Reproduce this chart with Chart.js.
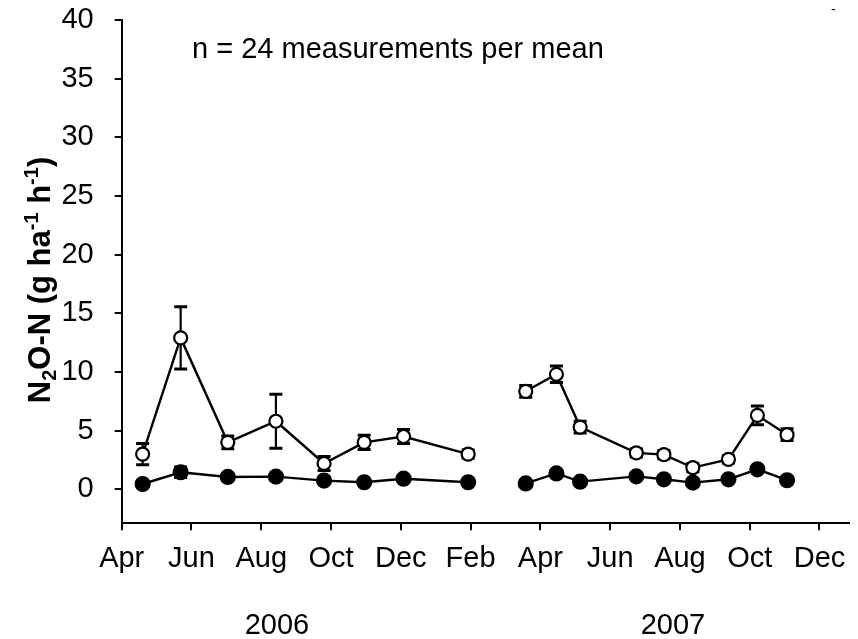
<!DOCTYPE html>
<html>
<head>
<meta charset="utf-8">
<script src="https://cdn.jsdelivr.net/npm/chart.js@4.4.1/dist/chart.umd.min.js"></script>
<style>
  html, body { margin: 0; padding: 0; background: #ffffff; }
  canvas { display: block; }
</style>
</head>
<body>
<canvas id="chart" width="858" height="639"></canvas>
<script>
// Month axis: values are months elapsed since 1 April 2006
const monthLabels = ['Apr', 'Jun', 'Aug', 'Oct', 'Dec', 'Feb', 'Apr', 'Jun', 'Aug', 'Oct', 'Dec'];
const monthTickValues = [0, 2, 4, 6, 8, 10, 12, 14, 16, 18, 20];
const yearLabels = ['2006', '2007'];
const yTickValues = [0, 5, 10, 15, 20, 25, 30, 35, 40];

// Sampling dates (months since 1 Apr 2006)
const sampleMonths2006 = [0.60, 1.69, 3.04, 4.42, 5.80, 6.95, 8.08, 9.93];
const sampleMonths2007 = [11.58, 12.46, 13.14, 14.75, 15.54, 16.37, 17.39, 18.22, 19.07];

// Open symbols: mean N2O-N flux and standard error
const openMean2006 = [3.0, 12.9, 4.0, 5.8, 2.2, 4.0, 4.5, 3.0];
const openErr2006  = [0.9, 2.65, 0.55, 2.3, 0.6, 0.6, 0.6, 0.35];
const openMean2007 = [8.35, 9.8, 5.3, 3.1, 2.95, 1.85, 2.55, 6.3, 4.65];
const openErr2007  = [0.5, 0.7, 0.5, 0.35, 0.35, 0.35, 0.3, 0.8, 0.5];

// Filled symbols: mean N2O-N flux and standard error
const filledMean2006 = [0.45, 1.45, 1.05, 1.08, 0.74, 0.6, 0.9, 0.6];
const filledErr2006  = [0.15, 0.45, 0.3, 0.3, 0.2, 0.15, 0.2, 0.15];
const filledMean2007 = [0.5, 1.35, 0.65, 1.1, 0.85, 0.57, 0.85, 1.7, 0.77];
const filledErr2007  = [0.15, 0.2, 0.15, 0.2, 0.15, 0.15, 0.15, 0.2, 0.15];

const FONT = '"Liberation Sans", Arial, Helvetica, sans-serif';
const TEXT_SIZE = 29;

function points(xs, ys, es) {
  return xs.map((x, i) => ({ x: x, y: ys[i], err: es[i] }));
}

function series(label, xs, ys, es, filled) {
  return {
    label: label,
    data: points(xs, ys, es),
    borderColor: '#000000',
    borderWidth: 2.4,
    backgroundColor: filled ? '#000000' : '#ffffff',
    pointBackgroundColor: filled ? '#000000' : '#ffffff',
    pointBorderColor: '#000000',
    pointBorderWidth: 2.2,
    pointRadius: filled ? 7 : 6.5,
    pointHoverRadius: filled ? 7 : 6.5,
    tension: 0,
    fill: false
  };
}

// Vertical error bars with caps, drawn underneath the symbols
const errorBars = {
  id: 'errorBars',
  beforeDatasetsDraw(chart) {
    const ctx = chart.ctx;
    const xs = chart.scales.x, ys = chart.scales.y;
    ctx.save();
    ctx.strokeStyle = '#000000';
    chart.data.datasets.forEach(ds => {
      ds.data.forEach(p => {
        const px = xs.getPixelForValue(p.x);
        const top = ys.getPixelForValue(p.y + p.err);
        const bot = ys.getPixelForValue(p.y - p.err);
        const half = 6.5;
        ctx.lineWidth = 2.2;
        ctx.beginPath();
        ctx.moveTo(px, top); ctx.lineTo(px, bot);
        ctx.stroke();
        ctx.lineWidth = 3;
        ctx.beginPath();
        ctx.moveTo(px - half, top); ctx.lineTo(px + half, top);
        ctx.moveTo(px - half, bot); ctx.lineTo(px + half, bot);
        ctx.stroke();
      });
    });
    ctx.restore();
  }
};

// Axis title with sub/superscripts, year labels and the note
const decorations = {
  id: 'decorations',
  afterDraw(chart) {
    const ctx = chart.ctx;
    const xs = chart.scales.x;
    ctx.save();
    ctx.fillStyle = '#000000';

    // Year labels under the month ticks
    const yearCentres = [4.45, 15.8];
    ctx.font = TEXT_SIZE + 'px ' + FONT;
    ctx.textAlign = 'center';
    ctx.textBaseline = 'alphabetic';
    yearLabels.forEach((t, i) => {
      ctx.fillText(t, xs.getPixelForValue(yearCentres[i]), 634);
    });

    // Note in the upper part of the plot
    ctx.textAlign = 'left';
    ctx.fillText('n = 24 measurements per mean', 192, 58);

    // Small mark in the upper right corner
    ctx.font = '14px ' + FONT;
    ctx.fillText('-', 831, 14);

    // Rotated y-axis title: N2O-N (g ha-1 h-1)
    const size = 31;
    const small = Math.round(size * 0.66);
    const parts = [
      { t: 'N', f: 'bold ' + size + 'px ' + FONT, dy: 0 },
      { t: '2', f: 'bold ' + small + 'px ' + FONT, dy: 6 },
      { t: 'O-N (g ha', f: 'bold ' + size + 'px ' + FONT, dy: 0 },
      { t: '-1', f: 'bold ' + small + 'px ' + FONT, dy: -12 },
      { t: ' h', f: 'bold ' + size + 'px ' + FONT, dy: 0 },
      { t: '-1', f: 'bold ' + small + 'px ' + FONT, dy: -12 },
      { t: ')', f: 'bold ' + size + 'px ' + FONT, dy: 0 }
    ];
    let total = 0;
    parts.forEach(p => { ctx.font = p.f; p.w = ctx.measureText(p.t).width; total += p.w; });
    ctx.translate(50, 280);
    ctx.rotate(-Math.PI / 2);
    ctx.textAlign = 'left';
    let cx = -total / 2;
    parts.forEach(p => {
      ctx.font = p.f;
      ctx.fillText(p.t, cx, p.dy);
      cx += p.w;
    });
    ctx.restore();
  }
};

Chart.defaults.font.family = FONT;
Chart.defaults.font.size = TEXT_SIZE;
Chart.defaults.color = '#000000';

new Chart(document.getElementById('chart'), {
  type: 'line',
  data: {
    datasets: [
      series('open 2006', sampleMonths2006, openMean2006, openErr2006, false),
      series('open 2007', sampleMonths2007, openMean2007, openErr2007, false),
      series('filled 2006', sampleMonths2006, filledMean2006, filledErr2006, true),
      series('filled 2007', sampleMonths2007, filledMean2007, filledErr2007, true)
    ]
  },
  options: {
    responsive: false,
    animation: false,
    events: [],
    layout: { padding: { top: 20, right: 0, bottom: 0, left: 0 } },
    plugins: {
      legend: { display: false },
      tooltip: { enabled: false }
    },
    scales: {
      x: {
        type: 'linear',
        min: 0,
        max: 20.84,
        border: { display: true, color: '#000000', width: 2 },
        grid: { drawOnChartArea: false, drawTicks: true, tickLength: 7, color: '#000000', lineWidth: 2 },
        ticks: {
          padding: 11,
          maxRotation: 0,
          autoSkip: false,
          callback: (v) => monthLabels[monthTickValues.indexOf(v)]
        },
        afterBuildTicks: (scale) => {
          scale.ticks = monthTickValues.map(v => ({ value: v }));
        },
        afterFit: (scale) => {
          scale.height = 115.7;
          scale.paddingLeft = 0;
          scale.paddingRight = 0;
        }
      },
      y: {
        type: 'linear',
        min: -2.9,
        max: 40,
        border: { display: true, color: '#000000', width: 2 },
        grid: { drawOnChartArea: false, drawTicks: true, tickLength: 7, color: '#000000', lineWidth: 2 },
        ticks: { padding: 21 },
        afterBuildTicks: (scale) => {
          scale.ticks = yTickValues.map(v => ({ value: v }));
        },
        afterFit: (scale) => {
          scale.width = 121.7;
          scale.paddingTop = 0;
          scale.paddingBottom = 0;
        }
      }
    }
  },
  plugins: [errorBars, decorations]
});
</script>
</body>
</html>
